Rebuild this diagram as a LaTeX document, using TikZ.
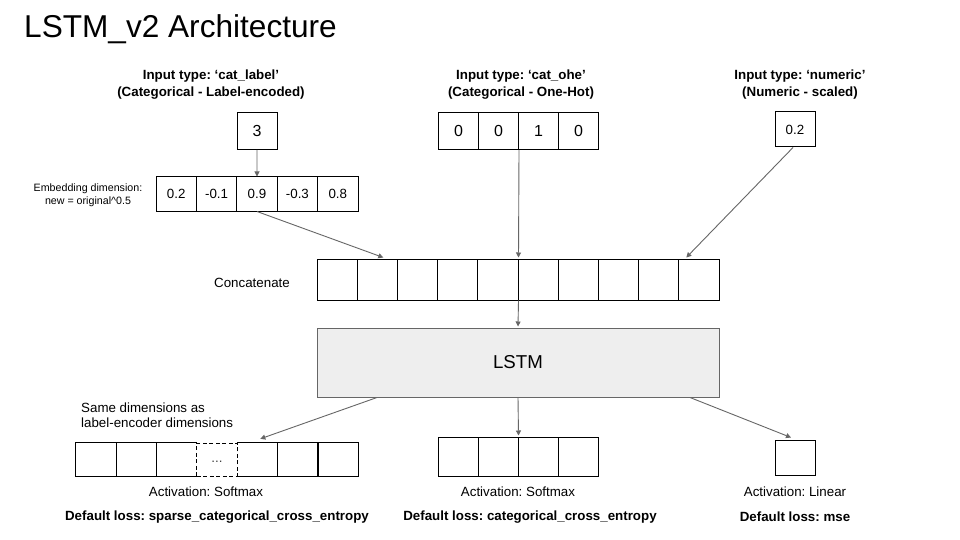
\documentclass[tikz,border=0pt]{standalone}
\usepackage{fontspec}
\setmainfont{Liberation Sans}
\usetikzlibrary{arrows.meta,calc}
\definecolor{arr}{HTML}{666666}
\definecolor{lstmfill}{HTML}{EEEEEE}
\begin{document}
\frenchspacing
\begin{tikzpicture}[x=1pt,y=-1pt,
  cellbox/.style={draw=black, line width=1pt, inner sep=0pt, minimum width=40.2pt},
  conn/.style={draw=arr, line width=0.9pt, -{Triangle[length=5pt,width=5pt]}},
  hdr/.style={font=\fontsize{13.33}{17}\selectfont\bfseries, align=center, inner sep=0pt},
  lbl/.style={font=\fontsize{13.33}{16}\selectfont, inner sep=0pt},
  bigdigit/.style={font=\fontsize{16}{19}\selectfont},
  smalldigit/.style={font=\fontsize{13.33}{16}\selectfont},
]
\useasboundingbox[fill=white] (0,0) rectangle (960,540);

% title
\node[anchor=base west, font=\fontsize{31.6}{36}\selectfont, inner sep=0pt] (title) at (24,37.5) {LSTM\_v2 Architecture};

% headers
\node[hdr] (h1) at (211,85) {Input type: ‘cat\_label’\\(Categorical - Label-encoded)};
\node[hdr] (h2) at (521,85) {Input type: ‘cat\_ohe’\\(Categorical - One-Hot)};
\node[hdr] (h3) at (800,85) {Input type: ‘numeric’\\(Numeric - scaled)};

% inputs
\node[cellbox, minimum width=40pt, minimum height=37pt, bigdigit] (b3) at (257,131) {3};
\foreach \v [count=\i] in {0,0,1,0}
  \node[cellbox, minimum width=40pt, minimum height=37pt, bigdigit] (o\i) at ({438.5+40*(\i-0.5)},131) {\v};
\node[cellbox, minimum width=40pt, minimum height=35pt, smalldigit] (nb) at (795,129.5) {0.2};

% embedding
\foreach \v [count=\i] in {0.2,-0.1,0.9,-0.3,0.8}
  \node[cellbox, minimum width=40.4pt, minimum height=34pt, smalldigit] (e\i) at ({156+40.4*(\i-0.5)},194) {\v};
\node[font=\fontsize{10.67}{12.5}\selectfont, align=center, inner sep=0pt] (embl) at (88,195) {Embedding dimension:\\new = original\textasciicircum 0.5};

% concatenate
\foreach \i in {1,...,10}
  \node[cellbox, minimum height=41pt] (c\i) at ({317+40.2*(\i-0.5)},279.5) {};
\node[lbl] (concl) at (252,283) {Concatenate};

% LSTM
\node[draw=arr, fill=lstmfill, line width=1pt, minimum width=402pt, minimum height=69pt, font=\fontsize{18.67}{22}\selectfont] (lstm) at (518,362.5) {LSTM};

% left output
\foreach \i in {1,2,3,5,6,7}
  \node[inner sep=0pt, minimum width=40.3pt, minimum height=33pt] (l\i) at ({76+40.3*(\i-0.5)},459.5) {};
\node[draw=black, dash pattern=on 4pt off 2.5pt, line width=1pt, inner sep=0pt, minimum width=40.3pt, minimum height=33pt, smalldigit, text=black!75] (l4) at ({76+40.3*3.5},459.5) {\strut...};
\foreach \i in {1,2,6,7}
  \draw[line width=1pt] (l\i.north west) rectangle (l\i.south east);
\draw[line width=1pt] (l3.north east) -- (l3.north west) -- (l3.south west) -- (l3.south east);
\draw[line width=1pt] (l5.north west) -- (l5.north east) -- (l5.south east) -- (l5.south west);
\node[anchor=west, align=left, font=\fontsize{13.33}{14.5}\selectfont, inner sep=0pt] (same) at (81,415) {Same dimensions as\\label-encoder dimensions};

% middle output
\foreach \i in {1,...,4}
  \node[cellbox, minimum width=40pt, minimum height=39pt] (m\i) at ({438+40*(\i-0.5)},456.5) {};
% right output
\node[cellbox, minimum width=40pt, minimum height=35pt] (rb) at (795,457.5) {};

% output labels
\node[lbl] (act1) at (206,492) {Activation: Softmax};
\node[lbl] (act2) at (518,492) {Activation: Softmax};
\node[lbl] (act3) at (795,492) {Activation: Linear};
\node[lbl, font=\fontsize{13.33}{16}\selectfont\bfseries] (loss1) at (217,517) {Default loss: sparse\_categorical\_cross\_entropy};
\node[lbl, font=\fontsize{13.33}{16}\selectfont\bfseries] (loss2) at (530,517) {Default loss: categorical\_cross\_entropy};
\node[lbl, font=\fontsize{13.33}{16}\selectfont\bfseries] (loss3) at (795,517) {Default loss: mse};

% connectors
\draw[conn] (b3.south) -- (e3.north);
\draw[conn] (e3.south) -- ($(c2.north)+(6,-1)$);
\draw[conn] (o2.south east) -- ($(c5.north east)+(0,-1)$);
\draw[conn] ($(nb.south)+(-2,0)$) -- ($(c10.north west)+(8,-1)$);
\draw[conn] (c5.south east) -- ($(lstm.north)+(0,-1)$);
\draw[conn] ($(lstm.south)+(-141,0)$) -- ($(l5.north)+(3,-4)$);
\draw[conn] (lstm.south) -- ($(m2.north east)+(0,-1)$);
\draw[conn] ($(lstm.south)+(172,0)$) -- ($(rb.north)+(-4,-2)$);
\end{tikzpicture}
\end{document}
